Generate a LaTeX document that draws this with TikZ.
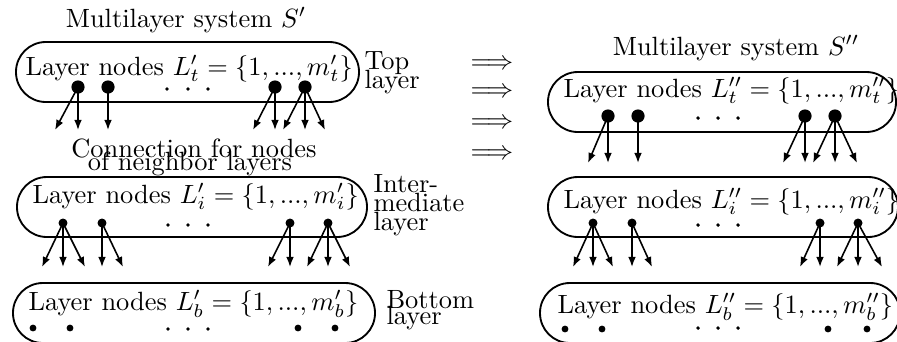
\documentclass[tikz,border=0pt]{standalone}
\usetikzlibrary{arrows.meta}
\begin{document}
\begin{tikzpicture}[x=0.3788pt,y=-0.3788pt,
  box/.style={draw, line width=0.7pt, rounded corners=11.3pt},
  lbl/.style={inner sep=0pt, anchor=base west},
  ctr/.style={inner sep=0pt, anchor=base},
  bigdot/.style={circle, fill, inner sep=0pt, minimum size=5pt},
  middot/.style={circle, fill, inner sep=0pt, minimum size=3.4pt},
  smalldot/.style={circle, fill, inner sep=0pt, minimum size=2.6pt},
  ell/.style={circle, fill, inner sep=0pt, minimum size=1.5pt},
  conn/.style={-{Latex[length=3.8pt,width=2.9pt]}, line width=0.6pt},
  dbl/.style={inner sep=0pt, anchor=center},
]
\useasboundingbox (0,0) rectangle (897,341);

% ---------------- left: S' ----------------
\node[ctr] (titleL) at (186,27) {Multilayer system $S'$};

% top layer
\draw[box] (16,42) rectangle (359,102);
\node[lbl] (txtLt) at (25,75) {Layer nodes $L'_t=\{1,...,m'_t\}$};
\node[lbl] (topA) at (364,69) {Top};
\node[lbl] (topB) at (364,88) {layer};
\node[bigdot] (lt1) at (78,87) {};
\node[bigdot] (lt2) at (108,87) {};
\node[bigdot] (lt3) at (275,87) {};
\node[bigdot] (lt4) at (305,87) {};
\node[ell] (ltd1) at (167,89) {};
\node[ell] (ltd2) at (188,89) {};
\node[ell] (ltd3) at (208,89) {};
\coordinate (lte1) at (55,130);
\coordinate (lte2) at (78,130);
\coordinate (lte3) at (108,130);
\coordinate (lte4) at (253,130);
\coordinate (lte5) at (275,130);
\coordinate (lte6) at (283,130);
\coordinate (lte7) at (305,130);
\coordinate (lte8) at (325,130);
\draw[conn] (lt1.center) -- (lte1);
\draw[conn] (lt1.center) -- (lte2);
\draw[conn] (lt2.center) -- (lte3);
\draw[conn] (lt3.center) -- (lte4);
\draw[conn] (lt3.center) -- (lte5);
\draw[conn] (lt4.center) -- (lte6);
\draw[conn] (lt4.center) -- (lte7);
\draw[conn] (lt4.center) -- (lte8);

\node[ctr] (connA) at (194,157) {Connection for nodes};
\node[ctr] (connB) at (190,170) {of neighbor layers};

% intermediate layer
\draw[box] (17,177) rectangle (367,237);
\node[lbl] (txtLi) at (32,203) {Layer nodes $L'_i=\{1,...,m'_i\}$};
\node[lbl] (intA) at (373,192) {Inter-};
\node[lbl] (intB) at (373,211) {mediate};
\node[lbl] (intC) at (373,230) {layer};
\node[middot] (li1) at (63,223) {};
\node[middot] (li2) at (102,223) {};
\node[middot] (li3) at (290,223) {};
\node[middot] (li4) at (328,223) {};
\node[ell] (lid1) at (168,225) {};
\node[ell] (lid2) at (188,225) {};
\node[ell] (lid3) at (208,225) {};
\coordinate (lie1) at (42,267);
\coordinate (lie2) at (63,267);
\coordinate (lie3) at (85,267);
\coordinate (lie4) at (102,267);
\coordinate (lie5) at (123,267);
\coordinate (lie6) at (268,267);
\coordinate (lie7) at (290,267);
\coordinate (lie8) at (307,267);
\coordinate (lie9) at (328,267);
\coordinate (lie10) at (350,267);
\draw[conn] (li1.center) -- (lie1);
\draw[conn] (li1.center) -- (lie2);
\draw[conn] (li1.center) -- (lie3);
\draw[conn] (li2.center) -- (lie4);
\draw[conn] (li2.center) -- (lie5);
\draw[conn] (li3.center) -- (lie6);
\draw[conn] (li3.center) -- (lie7);
\draw[conn] (li4.center) -- (lie8);
\draw[conn] (li4.center) -- (lie9);
\draw[conn] (li4.center) -- (lie10);

% bottom layer
\draw[box] (13,283) rectangle (375,343);
\node[lbl] (txtLb) at (28,310) {Layer nodes $L'_b=\{1,...,m'_b\}$};
\node[lbl] (botA) at (386,308) {Bottom};
\node[lbl] (botB) at (386,324) {layer};
\node[smalldot] (lb1) at (33,328) {};
\node[smalldot] (lb2) at (70,328) {};
\node[smalldot] (lb3) at (298,328) {};
\node[smalldot] (lb4) at (335,328) {};
\node[ell] (lbd1) at (168,329) {};
\node[ell] (lbd2) at (188,329) {};
\node[ell] (lbd3) at (208,329) {};

% ---------------- arrows between ----------------
\node[dbl] (imp1) at (492,65) {$\Longrightarrow$};
\node[dbl] (imp2) at (492,93) {$\Longrightarrow$};
\node[dbl] (imp3) at (492,124) {$\Longrightarrow$};
\node[dbl] (imp4) at (492,155) {$\Longrightarrow$};

% ---------------- right: S'' ----------------
\node[ctr] (titleR) at (736,55) {Multilayer system $S''$};

% top layer
\draw[box] (548,72) rectangle (896,132);
\node[lbl] (txtRt) at (563,97) {Layer nodes $L''_t=\{1,...,m''_t\}$};
\node[bigdot] (rt1) at (608,116) {};
\node[bigdot] (rt2) at (638,116) {};
\node[bigdot] (rt3) at (805,116) {};
\node[bigdot] (rt4) at (835,116) {};
\node[ell] (rtd1) at (698,118) {};
\node[ell] (rtd2) at (718,118) {};
\node[ell] (rtd3) at (738,118) {};
\coordinate (rte1) at (588,163);
\coordinate (rte2) at (608,163);
\coordinate (rte3) at (638,163);
\coordinate (rte4) at (783,163);
\coordinate (rte5) at (805,163);
\coordinate (rte6) at (813,163);
\coordinate (rte7) at (835,163);
\coordinate (rte8) at (857,163);
\draw[conn] (rt1.center) -- (rte1);
\draw[conn] (rt1.center) -- (rte2);
\draw[conn] (rt2.center) -- (rte3);
\draw[conn] (rt3.center) -- (rte4);
\draw[conn] (rt3.center) -- (rte5);
\draw[conn] (rt4.center) -- (rte6);
\draw[conn] (rt4.center) -- (rte7);
\draw[conn] (rt4.center) -- (rte8);

% intermediate layer
\draw[box] (548,177) rectangle (898,237);
\node[lbl] (txtRi) at (563,208) {Layer nodes $L''_i=\{1,...,m''_i\}$};
\node[middot] (ri1) at (593,223) {};
\node[middot] (ri2) at (632,223) {};
\node[middot] (ri3) at (820,223) {};
\node[middot] (ri4) at (858,223) {};
\node[ell] (rid1) at (698,225) {};
\node[ell] (rid2) at (718,225) {};
\node[ell] (rid3) at (738,225) {};
\coordinate (rie1) at (573,267);
\coordinate (rie2) at (593,267);
\coordinate (rie3) at (613,267);
\coordinate (rie4) at (632,267);
\coordinate (rie5) at (652,267);
\coordinate (rie6) at (800,267);
\coordinate (rie7) at (820,267);
\coordinate (rie8) at (837,267);
\coordinate (rie9) at (858,267);
\coordinate (rie10) at (882,267);
\draw[conn] (ri1.center) -- (rie1);
\draw[conn] (ri1.center) -- (rie2);
\draw[conn] (ri1.center) -- (rie3);
\draw[conn] (ri2.center) -- (rie4);
\draw[conn] (ri2.center) -- (rie5);
\draw[conn] (ri3.center) -- (rie6);
\draw[conn] (ri3.center) -- (rie7);
\draw[conn] (ri4.center) -- (rie8);
\draw[conn] (ri4.center) -- (rie9);
\draw[conn] (ri4.center) -- (rie10);

% bottom layer
\draw[box] (540,283) rectangle (900,343);
\node[lbl] (txtRb) at (557,313) {Layer nodes $L''_b=\{1,...,m''_b\}$};
\node[smalldot] (rb1) at (565,329) {};
\node[smalldot] (rb2) at (602,329) {};
\node[smalldot] (rb3) at (828,329) {};
\node[smalldot] (rb4) at (867,329) {};
\node[ell] (rbd1) at (698,328) {};
\node[ell] (rbd2) at (718,328) {};
\node[ell] (rbd3) at (738,328) {};
\end{tikzpicture}
\end{document}
